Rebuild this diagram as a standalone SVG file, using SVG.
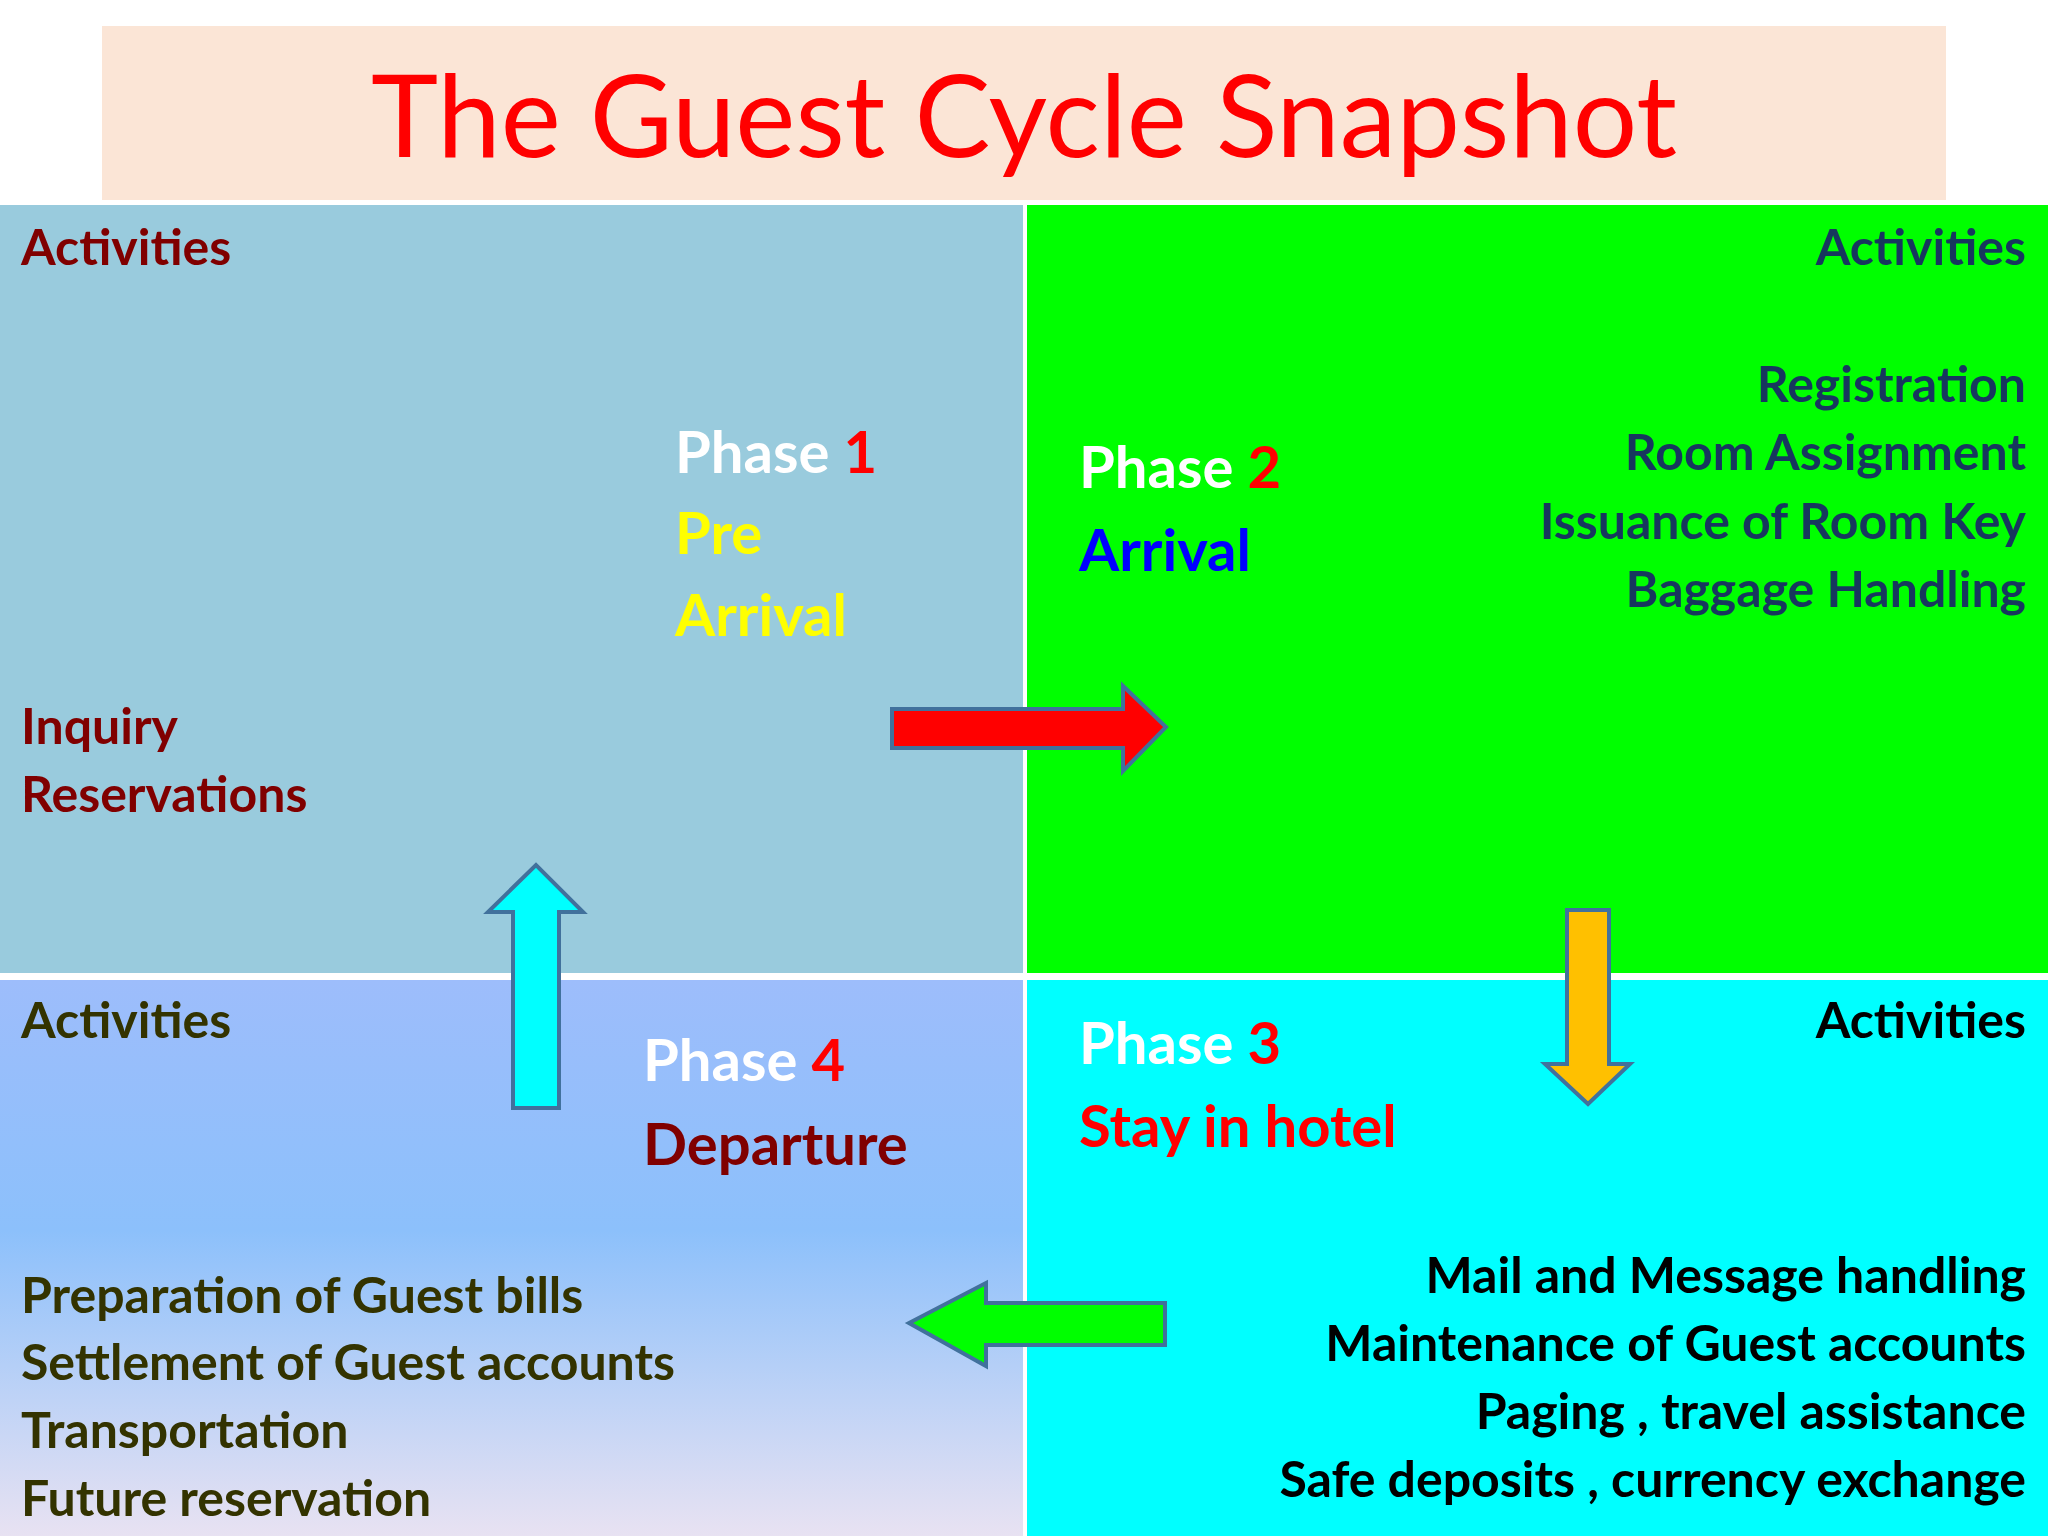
<svg xmlns="http://www.w3.org/2000/svg" width="2048" height="1536" viewBox="0 0 2048 1536">
<defs>
<linearGradient id="bl" x1="0" y1="0" x2="0" y2="1">
<stop offset="0" stop-color="#9dbdfb"/><stop offset="0.45" stop-color="#8cc0fb"/><stop offset="1" stop-color="#e8e2f2"/>
</linearGradient>
<style>
text{font-family:Lato,"Open Sans","Liberation Sans",sans-serif;font-weight:bold}
.t{font-size:50px}
.p{font-size:58px}
.r{text-anchor:end}
.arr{stroke:#41719c;stroke-width:4}
</style>
</defs>
<rect width="2048" height="1536" fill="#fff"/>
<g id="title"><rect x="102" y="26" width="1844" height="174" fill="#fbe5d6"/>
<text x="1024" y="157" text-anchor="middle" fill="#ff0000" style="font-weight:normal;font-size:114px" textLength="1306" lengthAdjust="spacingAndGlyphs">The Guest Cycle Snapshot</text></g>
<g id="phase1"><rect x="0" y="205" width="1023" height="768" fill="#99cbdd"/>
<text class="t" x="21" y="265" fill="#800000">Activities</text>
<text class="p" x="675" y="473" fill="#fff">Phase <tspan fill="#ff0000">1</tspan></text>
<text class="p" x="675" y="554" fill="#ffff00">Pre</text>
<text class="p" x="675" y="636" fill="#ffff00">Arrival</text>
<text class="t" x="21" y="744" fill="#800000">Inquiry</text>
<text class="t" x="21" y="812" fill="#800000">Reservations</text></g>
<g id="phase2"><rect x="1027" y="205" width="1021" height="768" fill="#00ff00"/>
<text class="t r" x="2026" y="265" fill="#17375e">Activities</text>
<text class="t r" x="2026" y="402" fill="#17375e">Registration</text>
<text class="t r" x="2026" y="470" fill="#17375e">Room Assignment</text>
<text class="t r" x="2026" y="539" fill="#17375e">Issuance of Room Key</text>
<text class="t r" x="2026" y="607" fill="#17375e">Baggage Handling</text>
<text class="p" x="1079" y="488" fill="#fff">Phase <tspan fill="#ff0000">2</tspan></text>
<text class="p" x="1079" y="571" fill="#0000ff">Arrival</text></g>
<g id="phase4"><rect x="0" y="980" width="1023" height="556" fill="url(#bl)"/>
<text class="t" x="21" y="1038" fill="#333300">Activities</text>
<text class="p" x="643" y="1081" fill="#fff">Phase <tspan fill="#ff0000">4</tspan></text>
<text class="p" x="643" y="1165" fill="#800000">Departure</text>
<text class="t" x="21" y="1313" fill="#333300">Preparation of Guest bills</text>
<text class="t" x="21" y="1380" fill="#333300">Settlement of Guest accounts</text>
<text class="t" x="21" y="1448" fill="#333300">Transportation</text>
<text class="t" x="21" y="1516" fill="#333300">Future reservation</text></g>
<g id="phase3"><rect x="1027" y="980" width="1021" height="556" fill="#00ffff"/>
<text class="t r" x="2026" y="1038" fill="#000">Activities</text>
<text class="p" x="1079" y="1064" fill="#fff">Phase <tspan fill="#ff0000">3</tspan></text>
<text class="p" x="1079" y="1147" fill="#ff0000">Stay in hotel</text>
<text class="t r" x="2026" y="1293" fill="#000">Mail and Message handling</text>
<text class="t r" x="2026" y="1361" fill="#000">Maintenance of Guest accounts</text>
<text class="t r" x="2026" y="1429" fill="#000">Paging , travel assistance</text>
<text class="t r" x="2026" y="1497" fill="#000">Safe deposits , currency exchange</text></g>
<g id="connectors">
<polygon class="arr" fill="#ff0000" points="892,709 1123,709 1123,686 1166,727 1123,771 1123,748 892,748"/>
<polygon class="arr" fill="#ffc000" points="1567,910 1609,910 1609,1064 1630,1064 1588,1104 1545,1064 1567,1064"/>
<polygon class="arr" fill="#00ffff" points="513,1108 559,1108 559,912 583,912 536,865 488,912 513,912"/>
<polygon class="arr" fill="#00ff00" points="1165,1303 986,1303 986,1283 909,1323 986,1366 986,1345 1165,1345"/>
</g>
</svg>
